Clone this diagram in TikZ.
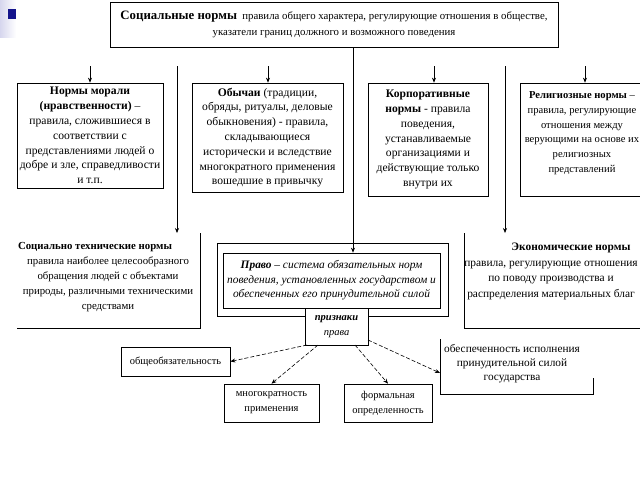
\documentclass[tikz,border=0pt]{standalone}
\usepackage{fontspec}
\setmainfont{Liberation Serif}
\usetikzlibrary{arrows.meta}
\definecolor{marknavy}{RGB}{20,20,140}
\definecolor{marklav}{RGB}{214,214,238}
\tikzset{
  frame/.style={draw, line width=0.7pt, align=center, inner sep=1pt},
  txt/.style={align=center, inner sep=0pt, font=\fontsize{10.5}{15}\selectfont},
  boxtxt/.style={frame, font=\fontsize{10.5}{15}\selectfont},
  rowtxt/.style={frame, font=\fontsize{11.6}{14.8}\selectfont},
  arr/.style={line width=0.6pt, -{Stealth[length=5pt,width=4pt]}},
  darr/.style={line width=0.6pt, dash pattern=on 4pt off 2pt, -{Stealth[length=5pt,width=4pt]}},
  edge/.style={line width=0.7pt}
}
\begin{document}
\begin{tikzpicture}[x=1pt,y=-1pt]
\fill[white] (0,0) rectangle (640,480);
\clip (0,0) rectangle (640,480);
% corner mark
\shade[left color=marklav, right color=white] (0,0) rectangle (16,37);
\fill[marknavy] (8,9) rectangle (16,19);

% top box
\node[frame, minimum width=448pt, minimum height=45pt, font=\fontsize{10.8}{16}\selectfont] (top) at (334,24.5)
 {{\fontsize{12.8}{16}\selectfont\bfseries Социальные нормы} \ правила общего характера, регулирующие отношения в обществе,\\
  указатели границ должного и возможного поведения};

% row 1
\node[rowtxt, minimum width=146pt, minimum height=105pt] (b1) at (90,135.5)
 {\textbf{Нормы морали}\\ \textbf{(нравственности)} –\\ правила, сложившиеся в\\ соответствии с\\ представлениями людей о\\ добре и зле, справедливости\\ и т.п.};
\node[rowtxt, minimum width=151pt, minimum height=109pt] (b2) at (267.5,137.5)
 {\textbf{Обычаи} (традиции,\\ обряды, ритуалы, деловые\\ обыкновения) - правила,\\ складывающиеся\\ исторически и вследствие\\ многократного применения\\ вошедшие в привычку};
\node[rowtxt, minimum width=120pt, minimum height=113pt] (b3) at (428,139.5)
 {\textbf{Корпоративные}\\ \textbf{нормы} - правила\\ поведения,\\ устанавливаемые\\ организациями и\\ действующие только\\ внутри их};
\node[rowtxt, font=\fontsize{10.6}{14.8}\selectfont, minimum width=124pt, minimum height=113pt] (b4) at (582,139.5)
 {\textbf{Религиозные нормы} –\\ правила, регулирующие\\ отношения между\\ верующими на основе их\\ религиозных\\ представлений\\ \mbox{}};

% arrows to row 1
\coordinate (s1) at (90,66);
\coordinate (s2) at (268,66);
\coordinate (s3) at (434,66);
\coordinate (s4) at (585,66);
\draw[arr] (s1) -- (s1 |- b1.north);
\draw[arr] (s2) -- (s2 |- b2.north);
\draw[arr] (s3) -- (s3 |- b3.north);
\draw[arr] (s4) -- (s4 |- b4.north);

% social-technical norms
\node[txt, font=\fontsize{10.8}{15}\selectfont] (st) at (108,277)
 {\textbf{Социально технические нормы}\hspace*{26pt}\\ правила наиболее целесообразного\\ обращения людей с объектами\\ природы, различными техническими\\ средствами};
\coordinate (stTR) at (200,233);
\coordinate (stBR) at (200,328);
\coordinate (stBL) at (17,328);
\draw[edge] (stTR) -- (stBR) -- (stBL);
\coordinate (stS) at (177,66);
\coordinate (stE) at (177,233);
\draw[arr] (stS) -- (stE);

% economic norms
\node[txt, font=\fontsize{11.4}{15.5}\selectfont] (ec) at (551,271.5)
 {\hspace*{40pt}\textbf{Экономические нормы}\\ правила, регулирующие отношения\\ по поводу производства и\\ распределения материальных благ};
\coordinate (ecTL) at (464,233);
\coordinate (ecBL) at (464,328);
\coordinate (ecBR) at (645,328);
\draw[edge] (ecTL) -- (ecBL) -- (ecBR);
\coordinate (ecS) at (505,66);
\coordinate (ecE) at (505,233);
\draw[arr] (ecS) -- (ecE);

% law
\node[frame, minimum width=231pt, minimum height=73pt] (lawout) at (332.5,279.5) {};
\node[frame, minimum width=217pt, minimum height=55pt, font=\fontsize{11.4}{14.5}\selectfont\itshape] (law) at (331.5,280.5)
 {\textbf{Право} – система обязательных норм\\ поведения, установленных государством и\\ обеспеченных его принудительной силой};
\coordinate (topS) at (353,47);
\draw[arr] (topS) -- (topS |- law.north);

% signs
\node[frame, fill=white, minimum width=63pt, minimum height=37pt, font=\fontsize{10.5}{15}\selectfont\itshape] (prz) at (336.5,326.5)
 {\textbf{признаки}\\ права};

% bottom boxes
\node[boxtxt, minimum width=109pt, minimum height=29pt] (ob) at (175.5,361.5) {общеобязательность};
\node[boxtxt, minimum width=95pt, minimum height=38pt] (mn) at (271.5,403) {многократность\\ применения};
\node[boxtxt, minimum width=88pt, minimum height=38pt] (fo) at (388,403) {формальная\\ определенность};
\node[txt, font=\fontsize{11.3}{14}\selectfont] (en) at (512,364) {обеспеченность исполнения\\ принудительной силой\\ государства};
\coordinate (enTL) at (440,339);
\coordinate (enBL) at (440,394);
\coordinate (enBR) at (593,394);
\coordinate (enTR) at (593,378);
\draw[edge] (enTL) -- (enBL) -- (enBR) -- (enTR);

% dashed arrows
\coordinate (d1) at (307,345);
\coordinate (d2) at (318,345);
\coordinate (d3) at (355,345);
\coordinate (d4) at (368,340);
\coordinate (enL) at (440,373);
\draw[darr] (d1) -- (ob.east);
\draw[darr] (d2) -- (mn.north);
\draw[darr] (d3) -- (fo.north);
\draw[darr] (d4) -- (enL);
\end{tikzpicture}
\end{document}
